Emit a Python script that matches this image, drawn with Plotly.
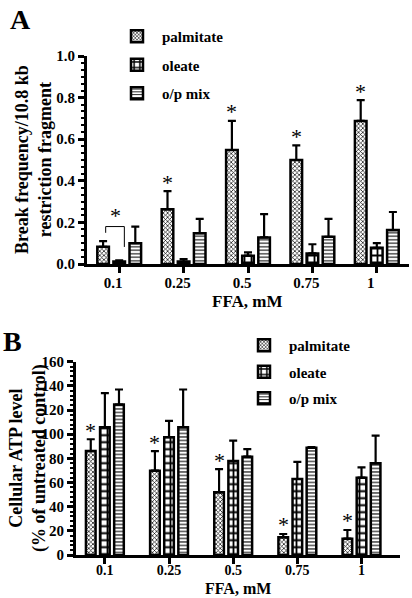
import plotly.graph_objects as go

# ---------------- data ----------------
conc = ["0.1", "0.25", "0.5", "0.75", "1"]
series = ["palmitate", "oleate", "o/p mix"]

# Panel A: break frequency / 10.8 kb restriction fragment
a_palm = [0.083, 0.263, 0.548, 0.50, 0.688]
a_palm_err = [0.027, 0.087, 0.14, 0.07, 0.10]
a_ole = [0.012, 0.012, 0.040, 0.051, 0.078]
a_ole_err = [0.005, 0.012, 0.016, 0.044, 0.022]
a_mix = [0.100, 0.148, 0.128, 0.131, 0.163]
a_mix_err = [0.080, 0.069, 0.112, 0.086, 0.087]

# Panel B: cellular ATP level (% of untreated control)
b_palm = [86, 69.8, 51.9, 14.6, 13.5]
b_palm_err = [9.8, 16.2, 19.1, 2.8, 7.2]
b_ole = [105.7, 97.5, 77.8, 62.9, 64.0]
b_ole_err = [28.3, 13.5, 16.8, 14.1, 8.6]
b_mix = [124.5, 105.7, 81.4, 88.8, 75.9]
b_mix_err = [12.5, 31.3, 6.3, 0.5, 22.9]

a_star = [False, True, True, True, True]   # asterisks over palmitate (A)
b_star = [True, True, True, True, True]    # asterisks over palmitate (B)

# ---------------- style ----------------
FONT = "Times New Roman, Liberation Serif, Tinos, DejaVu Serif, serif"
patterns = {
    "palmitate": dict(shape="x", size=3, solidity=0.4),
    "oleate": dict(shape="+", size=7, solidity=0.45),
    "o/p mix": dict(shape="-", size=3.5, solidity=0.3),
}

fig = go.Figure()

def add_panel(vals, errs, xa, ya, legend, centers, width):
    for name, v, e, c in zip(series, vals, errs, centers):
        p = patterns[name]
        fig.add_trace(go.Bar(
            x=conc, y=v, name=name,
            xaxis=xa, yaxis=ya, legend=legend, legendgroup=legend + name,
            offset=c - width / 2, width=width,
            marker=dict(color="white", line=dict(color="black", width=2.5),
                        pattern=dict(shape=p["shape"], size=p["size"],
                                     solidity=p["solidity"], fgcolor="black",
                                     bgcolor="white", fillmode="replace")),
            error_y=dict(type="data", symmetric=False, array=e,
                         arrayminus=[0] * len(e), color="black",
                         thickness=2.2, width=4),
        ))

A_CENTERS = [-0.25, 0.0, 0.25]
B_CENTERS = [-0.22, 0.0, 0.22]
add_panel([a_palm, a_ole, a_mix], [a_palm_err, a_ole_err, a_mix_err],
          "x", "y", "legend", A_CENTERS, 0.18)
add_panel([b_palm, b_ole, b_mix], [b_palm_err, b_ole_err, b_mix_err],
          "x2", "y2", "legend2", B_CENTERS, 0.15)

W, H = 412, 598
tickf = dict(family=FONT, size=15, color="black", weight="bold")

def yax(rng, dtick, mdtick, domain, anchor, fmt):
    return dict(range=rng, dtick=dtick, domain=domain, anchor=anchor,
                tickformat=fmt, automargin=False,
                showgrid=False, zeroline=False, showline=True,
                linecolor="black", linewidth=3, ticks="outside",
                ticklen=6, tickwidth=3, tickcolor="black", tickfont=tickf,
                minor=dict(dtick=mdtick, ticks="outside", ticklen=3,
                           tickwidth=2, tickcolor="black"))

def xax(domain, anchor, shift, rng, standoff, fsize):
    return dict(domain=domain, anchor=anchor, type="category", range=rng,
                automargin=False,
                showgrid=False, showline=True, linecolor="black", linewidth=3,
                ticks="outside", ticklen=6, tickwidth=3, tickcolor="black",
                tickfont=dict(tickf, size=fsize), ticklabelshift=shift,
                ticklabelstandoff=standoff)

fig.update_layout(
    width=W, height=H, barmode="overlay",
    margin=dict(l=0, r=0, t=0, b=0, autoexpand=False),
    paper_bgcolor="white", plot_bgcolor="white",
    font=dict(family=FONT, color="black"),
    xaxis=xax([87 / W, 409 / W], "y", -6, [-0.5, 4.5], -3, 15),
    yaxis=yax([0, 1.0], 0.2, 0.2 / 6, [1 - 264 / H, 1 - 56 / H], "x", ".1f"),
    xaxis2=xax([76 / W, 400 / W], "y2", 0, [-0.45, 4.6], -6, 14),
    yaxis2=yax([0, 160], 20, 4, [1 - 555 / H, 1 - 361.7 / H], "x2", "d"),
    legend=dict(x=112 / W, y=1 - 20 / H, xanchor="left", yanchor="top",
                font=dict(family=FONT, size=15, weight="bold"),
                tracegroupgap=6, itemwidth=40, bgcolor="rgba(0,0,0,0)"),
    legend2=dict(x=239 / W, y=1 - 329 / H, xanchor="left", yanchor="top",
                 font=dict(family=FONT, size=15, weight="bold"),
                 tracegroupgap=4, itemwidth=40, bgcolor="rgba(0,0,0,0)"),
    showlegend=True,
)

anns = []
bold = lambda s: dict(family=FONT, size=s, color="black", weight="bold")
# panel letters
anns.append(dict(text="A", x=8 / W, y=1 - 2 / H, xref="paper", yref="paper",
                 xanchor="left", yanchor="top", showarrow=False, font=bold(28)))
anns.append(dict(text="B", x=1 / W, y=1 - 324 / H, xref="paper", yref="paper",
                 xanchor="left", yanchor="top", showarrow=False, font=bold(28)))
# axis titles
anns.append(dict(text="Break frequency/10.8 kb<br>restriction fragment",
                 x=33 / W, y=1 - 160 / H, xref="paper", yref="paper",
                 xanchor="center", yanchor="middle",
                 textangle=-90, showarrow=False, font=bold(18)))
anns.append(dict(text="FFA, mM", x=248 / W, y=1 - 301 / H, xref="paper",
                 yref="paper", xanchor="center", yanchor="middle",
                 showarrow=False, font=bold(17)))
anns.append(dict(text="Cellular ATP level<br>(% of untreated control)",
                 x=28 / W, y=1 - 458 / H, xref="paper", yref="paper",
                 xanchor="center", yanchor="middle",
                 textangle=-90, showarrow=False, font=bold(18)))
anns.append(dict(text="FFA, mM", x=238 / W, y=1 - 588 / H, xref="paper",
                 yref="paper", xanchor="center", yanchor="middle",
                 showarrow=False, font=bold(16)))

# asterisks
for i, s in enumerate(a_star):
    if s:
        anns.append(dict(text="*", x=i + A_CENTERS[0], y=a_palm[i] + a_palm_err[i],
                         xref="x", yref="y", yanchor="middle", yshift=9,
                         showarrow=False, font=dict(family=FONT, size=22, color="black")))
for i, s in enumerate(b_star):
    if s:
        anns.append(dict(text="*", x=i + B_CENTERS[0], y=b_palm[i] + b_palm_err[i],
                         xref="x2", yref="y2", yanchor="middle", yshift=9,
                         showarrow=False, font=dict(family=FONT, size=22, color="black")))

# bracket for 0.1 mM (palmitate vs oleate) in panel A
br_left = A_CENTERS[0] + 0.04
br_right = A_CENTERS[1] + 0.08
br_top = a_mix[0] + 0.08
left_bot = a_palm[0] + a_palm_err[0] + 0.04
right_bot = a_ole[0] + 0.07
fig.add_shape(type="path", xref="x", yref="y",
              path=f"M {br_left},{left_bot} L {br_left},{br_top} L {br_right},{br_top} L {br_right},{right_bot}",
              line=dict(color="black", width=1))
anns.append(dict(text="*", x=(br_left + br_right) / 2, y=br_top, xref="x", yref="y",
                 yanchor="middle", yshift=11, showarrow=False,
                 font=dict(family=FONT, size=22, color="black")))

fig.update_layout(annotations=anns)
fig.write_html(
    "out.html",
    config={"displayModeBar": False},
    post_script="document.body.style.margin='0';document.body.style.overflow='hidden';",
)
